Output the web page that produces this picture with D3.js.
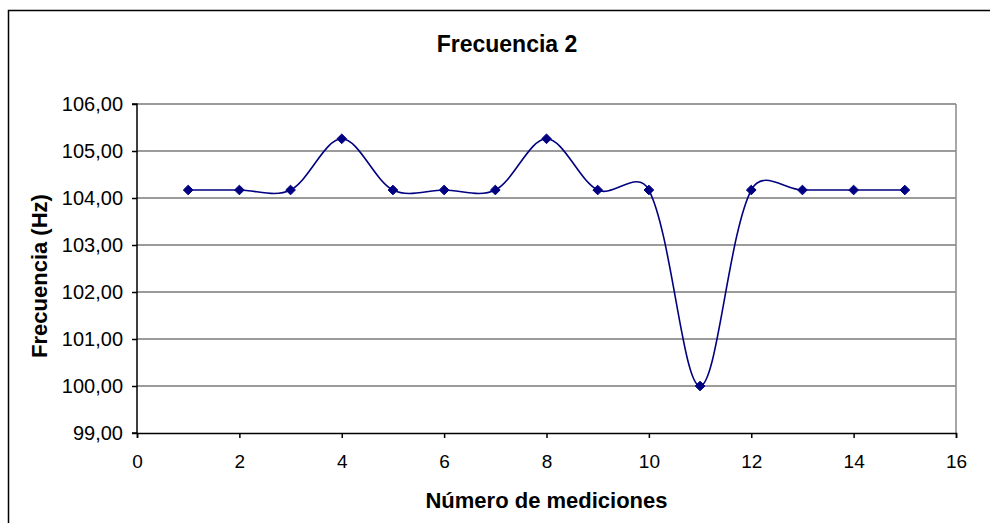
<!DOCTYPE html>
<html>
<head>
<meta charset="utf-8">
<script src="https://cdn.jsdelivr.net/npm/d3@7"></script>
<style>
html,body{margin:0;padding:0;background:#fff;}
svg{display:block;}
text{font-family:Arial,"Liberation Sans",sans-serif;fill:#000;}
</style>
</head>
<body>
<svg id="chart" width="990" height="523"></svg>
<script>
const chartTitle = "Frecuencia 2";
const xTitle = "Número de mediciones";
const yTitle = "Frecuencia (Hz)";
const mediciones = [1,2,3,4,5,6,7,8,9,10,11,12,13,14,15];
const frecuencia = [104.17,104.17,104.17,105.26,104.17,104.17,104.17,105.26,104.17,104.17,100.00,104.17,104.17,104.17,104.17];
const xTicks = [0,2,4,6,8,10,12,14,16];
const yTicks = [99,100,101,102,103,104,105,106];

const svg = d3.select("#chart");
const plot = {left:137, right:956, top:104, bottom:433};

// outer chart border (extends past the viewport on the right/bottom)
svg.append("rect").attr("x",8.5).attr("y",10.5).attr("width",1000).attr("height",600)
  .attr("fill","#fff").attr("stroke","#000").attr("stroke-width",1.5);

const x = d3.scaleLinear().domain([0,16]).range([plot.left, plot.right]);
const y = d3.scaleLinear().domain([99,106]).range([plot.bottom, plot.top]);

// gridlines
svg.append("g").selectAll("line").data(yTicks.filter(d=>d>99)).join("line")
  .attr("x1",plot.left).attr("x2",plot.right)
  .attr("y1",d=>y(d)).attr("y2",d=>y(d))
  .attr("stroke","#7a7a7a").attr("stroke-width",1.5);
svg.append("line").attr("x1",plot.right).attr("x2",plot.right)
  .attr("y1",plot.top).attr("y2",plot.bottom)
  .attr("stroke","#8a8a8a").attr("stroke-width",1.5);

// axes
const fmt = d => d.toFixed(2).replace(".", ",");
const yAxis = d3.axisLeft(y).tickValues(yTicks).tickFormat(fmt).tickSize(5).tickPadding(9);
const gy = svg.append("g").attr("transform",`translate(${plot.left},0)`).call(yAxis);
const xAxis = d3.axisBottom(x).tickValues(xTicks).tickFormat(d3.format("d")).tickSize(5).tickPadding(17);
const gx = svg.append("g").attr("transform",`translate(0,${plot.bottom})`).call(xAxis);
[gy,gx].forEach(g=>{
  g.select(".domain").attr("stroke","#000").attr("stroke-width",1.5);
  g.selectAll(".tick line").attr("stroke","#000").attr("stroke-width",1.5);
  g.selectAll(".tick text").attr("font-family","Arial, 'Liberation Sans', sans-serif")
    .attr("font-size",20).attr("fill","#111");
});
gy.select(".domain").attr("d",`M-5,${plot.bottom}H0V${plot.top}H-5`);
gx.selectAll(".tick text").attr("font-size",19);

// series — smoothed Bezier line in the style of a spreadsheet "smoothed line"
const P = mediciones.map((m,i)=>[x(m), y(frecuencia[i])]);
function smoothPath(p){
  const n = p.length, f = 1/6;
  const dist = (a,b)=>Math.hypot(b[0]-a[0], b[1]-a[1]);
  let d = `M${p[0][0]},${p[0][1]}`;
  for(let i=0;i<n-1;i++){
    const p0 = p[Math.max(i-1,0)], p1 = p[i], p2 = p[i+1], p3 = p[Math.min(i+2,n-1)];
    const d01 = Math.sqrt(dist(p0,p1)), d12 = Math.sqrt(dist(p1,p2)), d23 = Math.sqrt(dist(p2,p3));
    const k1 = (i===0) ? f*2 : f*2*d12/(d01+d12);
    const k2 = (i===n-2) ? f*2 : f*2*d12/(d12+d23);
    const c1 = [p1[0]+(p2[0]-p0[0])*k1, p1[1]+(p2[1]-p0[1])*k1];
    const c2 = [p2[0]-(p3[0]-p1[0])*k2, p2[1]-(p3[1]-p1[1])*k2];
    d += `C${c1[0]},${c1[1]} ${c2[0]},${c2[1]} ${p2[0]},${p2[1]}`;
  }
  return d;
}
svg.append("path").attr("d",smoothPath(P))
  .attr("fill","none").attr("stroke","#000080").attr("stroke-width",1.6);

const sym = d3.symbol().type(d3.symbolDiamond2).size(60);
svg.append("g").selectAll("path").data(P).join("path")
  .attr("transform",d=>`translate(${d[0]},${d[1]})`)
  .attr("d",sym).attr("fill","#000080").attr("stroke","#000080").attr("stroke-width",1);

// titles
svg.append("text").attr("x",507).attr("y",52).attr("text-anchor","middle")
  .attr("font-size",23).attr("font-weight","bold").text(chartTitle);
svg.append("text").attr("x",(plot.left+plot.right)/2).attr("y",508).attr("text-anchor","middle")
  .attr("font-size",22).attr("font-weight","bold").text(xTitle);
svg.append("text").attr("transform","translate(47,276) rotate(-90)").attr("text-anchor","middle")
  .attr("font-size",22).attr("font-weight","bold").text(yTitle);
</script>
</body>
</html>
